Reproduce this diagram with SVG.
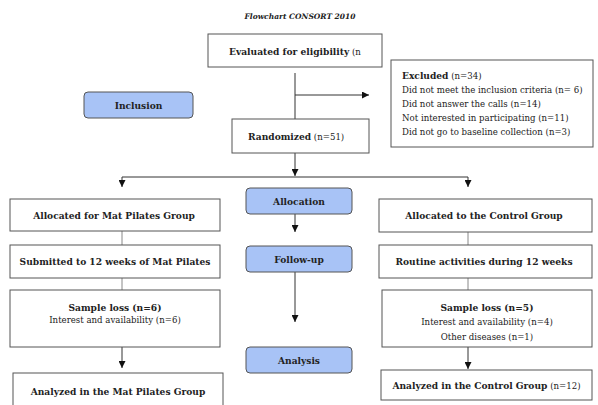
<svg xmlns="http://www.w3.org/2000/svg" width="598" height="405" viewBox="0 0 598 405">
<defs>
<style>
.box{fill:#fff;stroke:#555;stroke-width:1}
.phase{fill:#a8c3f6;stroke:#555;stroke-width:1}
.ln{fill:none;stroke:#333;stroke-width:1}
.lg{fill:none;stroke:#888;stroke-width:1}
text{font-family:"DejaVu Serif","Liberation Serif",serif;fill:#222}
.b{font-weight:bold;font-size:9.1px}
.r{font-size:8.6px}
.t{font-style:italic;font-weight:bold;font-size:7.5px}
.c{text-anchor:middle}
</style>
<marker id="ah" viewBox="0 0 10 10" refX="10" refY="5" markerWidth="7" markerHeight="7" markerUnits="userSpaceOnUse" orient="auto">
<path d="M0,0 L10,5 L0,10 z" fill="#111"/>
</marker>
</defs>
<rect width="598" height="405" fill="#fff"/>
<text class="t c" x="300" y="19">Flowchart CONSORT 2010</text>

<g id="connectors">
<path class="ln" d="M295,73 V119"/>
<path class="ln" d="M295,95 H369" marker-end="url(#ah)"/>
<path class="ln" d="M295,153 V176" marker-end="url(#ah)"/>
<path class="ln" d="M122,177 H468"/>
<path class="ln" d="M122,177 V187" marker-end="url(#ah)"/>
<path class="ln" d="M468,177 V187" marker-end="url(#ah)"/>
<path class="lg" d="M122,231 V245"/>
<path class="lg" d="M122,278 V290"/>
<path class="ln" d="M122,347 V368" marker-end="url(#ah)"/>
<path class="lg" d="M468,232 V245"/>
<path class="lg" d="M468,278 V290"/>
<path class="ln" d="M468,347 V369" marker-end="url(#ah)"/>
<path class="ln" d="M295,214 V232" marker-end="url(#ah)"/>
<path class="ln" d="M295,272 V322" marker-end="url(#ah)"/>
</g>

<g id="evaluated">
<rect class="box" x="208" y="34" width="174" height="33"/>
<text x="229" y="55"><tspan class="b">Evaluated for eligibility</tspan><tspan class="r"> (n</tspan></text>
</g>

<g id="excluded">
<rect class="box" x="391" y="60" width="202" height="87"/>
<text x="402" y="78.5"><tspan class="b">Excluded</tspan><tspan class="r"> (n=34)</tspan></text>
<text class="r" x="402" y="92.5">Did not meet the inclusion criteria (n= 6)</text>
<text class="r" x="402" y="106.5">Did not answer the calls (n=14)</text>
<text class="r" x="402" y="120.5">Not interested in participating (n=11)</text>
<text class="r" x="402" y="134.5">Did not go to baseline collection (n=3)</text>
</g>

<g id="inclusion">
<rect class="phase" x="84" y="92" width="109" height="26" rx="4"/>
<text class="b c" x="138.5" y="108.5">Inclusion</text>
</g>

<g id="randomized">
<rect class="box" x="232" y="119" width="137" height="34"/>
<text x="248" y="140"><tspan class="b">Randomized</tspan><tspan class="r"> (n=51)</tspan></text>
</g>

<g id="allocation">
<rect class="phase" x="246" y="188" width="106" height="26" rx="4"/>
<text class="b c" x="299" y="204.5">Allocation</text>
</g>

<g id="followup">
<rect class="phase" x="246" y="246" width="106" height="26" rx="4"/>
<text class="b c" x="299" y="262.5">Follow-up</text>
</g>

<g id="analysis">
<rect class="phase" x="246" y="347" width="106" height="26" rx="4"/>
<text class="b c" x="299" y="363.5">Analysis</text>
</g>

<g id="alloc-pilates">
<rect class="box" x="10" y="199" width="210" height="32"/>
<text class="b c" x="114" y="218.5">Allocated for Mat Pilates Group</text>
</g>

<g id="submitted">
<rect class="box" x="10" y="245" width="210" height="33"/>
<text class="b c" x="115" y="265">Submitted to 12 weeks of Mat Pilates</text>
</g>

<g id="loss-pilates">
<rect class="box" x="10" y="290" width="210" height="57"/>
<text class="b c" x="115" y="310.5">Sample loss (n=6)</text>
<text class="r c" x="115" y="322.5">Interest and availability  (n=6)</text>
</g>

<g id="analyzed-pilates">
<rect class="box" x="13" y="373" width="210" height="40"/>
<text class="b c" x="118" y="395">Analyzed in the Mat Pilates Group</text>
</g>

<g id="alloc-control">
<rect class="box" x="379" y="199" width="213" height="33"/>
<text class="b c" x="484" y="219">Allocated to the Control Group</text>
</g>

<g id="routine">
<rect class="box" x="379" y="245" width="213" height="33"/>
<text class="b c" x="484" y="265">Routine activities during 12 weeks</text>
</g>

<g id="loss-control">
<rect class="box" x="382" y="290" width="210" height="57"/>
<text class="b c" x="487" y="311">Sample loss (n=5)</text>
<text class="r c" x="487" y="325">Interest and availability (n=4)</text>
<text class="r c" x="487" y="339.5">Other diseases (n=1)</text>
</g>

<g id="analyzed-control">
<rect class="box" x="381" y="370" width="211" height="30"/>
<text x="486.5" y="389" class="c"><tspan class="b">Analyzed in the Control Group</tspan><tspan class="r"> (n=12)</tspan></text>
</g>
</svg>
